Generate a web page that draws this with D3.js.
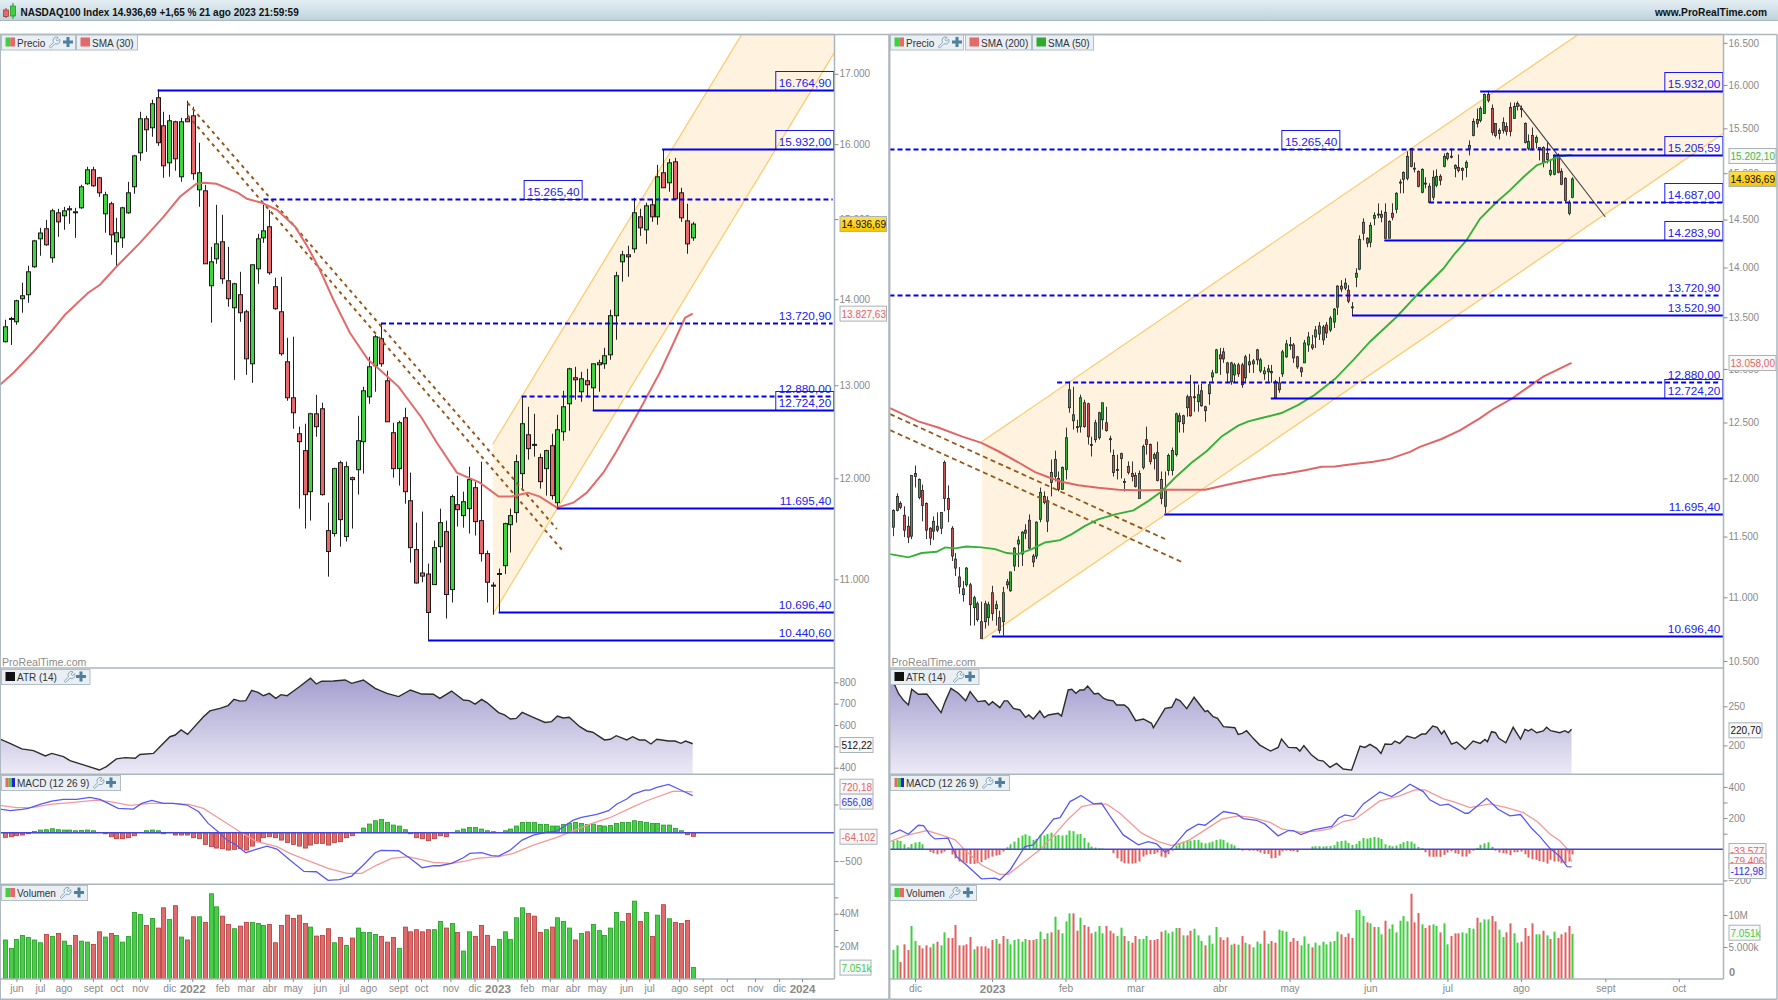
<!DOCTYPE html>
<html lang="es">
<head>
<meta charset="utf-8">
<title>NASDAQ100 Index</title>
<script src="https://cdn.jsdelivr.net/npm/d3@7/dist/d3.min.js"></script>
<style>
html,body{margin:0;padding:0;background:#fff;overflow:hidden}
svg{display:block;font-family:"Liberation Sans",Arial,sans-serif}
.tick text{font-family:"Liberation Sans",Arial,sans-serif}
</style>
</head>
<body>
<svg id="chart" width="1778" height="1000"></svg>
<script>
/* ---------- Weekly chart ---------- */
const weekOpen=[13497,13760,13731,14006,14055,14397,14748,14876,14509,15082,
15043,15120,15095,15147,15464,15651,15544,15069,15200,14710,
14760,15082,15424,15882,16354,16228,16653,16256,15745,16312,
15557,16354,16396,15384,15371,14164,14496,14710,14225,13898,
14055,13850,13243,14372,14760,14902,14152,13850,13266,12861,
12469,12289,11862,12685,12740,11471,11442,12162,11412,12006,
12089,12384,12872,13220,13532,13051,12480,12100,12642,11770,
11285,11060,11050,10950,11314,11461,10903,11730,11620,11690,
11903,11570,11246,10945,11050,11130,11530,11650,12048,12458,
12355,12215,12100,12341,11750,12490,12795,13085,12928,13051,
12972,13232,13243,13346,13803,14459,14546,14621,15030,14863,
15186,15030,15611,15477,15759,15344,14978,14760];
const weekHigh=[13755,13790,13994,14200,14410,14735,14888,14991,15134,15134,
15160,15173,15147,15450,15692,15692,15557,15358,15226,15017,
15160,15490,15854,16453,16396,16624,16772,16453,16410,16326,
16368,16610,16524,16020,15450,14646,15186,15056,14646,14200,
14335,13874,14422,14811,15186,15121,14262,14274,13543,13555,
12545,12577,12696,12894,12806,11750,12110,12183,12173,12017,
12663,12984,13323,13578,13720,13164,12588,12610,12751,12058,
11550,11660,11150,11373,11690,11570,11832,12027,11862,12120,
11965,12173,11275,10972,11102,11550,11690,12246,12872,12762,
12685,12257,12299,12469,12674,12939,13198,13209,13152,13186,
13243,13289,13427,13874,14335,14596,14660,15278,15134,15213,
15265,15718,15932,15800,15813,15411,15200,14965];
const weekLow=[13490,13460,13696,13838,13958,14385,14534,14660,14447,14773,
14863,14940,14760,15134,15450,15424,15291,14825,14546,14397,
14634,15069,15331,15772,15896,16103,15978,15544,15557,15638,
15490,16312,15517,15160,14434,13720,14434,14188,13910,13062,
13731,13118,13028,14188,14697,14298,13874,13335,12828,12523,
11690,11491,11570,12437,11822,11025,11412,11314,11363,11491,
11832,12048,12795,12928,13209,12598,12006,11924,11740,11159,
10960,10972,10440.6,10950,11159,10635,10782,11511,11500,11442,
11422,11169,10782,10670,10696.4,11050,11256,11550,11893,12194,
12225,11893,11822,11781,11700,12394,12501,12839,12817,12872,
12729,12928,13186,13289,13520,14213,14274,14571,14786,14684,
14965,14927,15411,15358,15265,14965,14559,14722];
const weekClose=[13672,13770,13982,14042,14335,14722,14822,14672,15108,14965,
15108,15135,15090,15424,15651,15437,15344,15318,14799,14825,
15147,15344,15840,16354,16200,16567,16020,15705,16326,15800,
16312,16312,15598,15611,14434,14459,14684,14249,14006,14188,
13838,13300,14422,14748,14850,14323,13886,13358,12861,12696,
12384,11832,12685,12545,11832,11266,12100,11580,12120,11986,
12394,12939,13209,13555,13243,12598,12100,12588,11862,11304,
10965,11030,10690,11304,11550,10857,11812,11680,11760,11986,
11560,11246,10972,10935,11055,11540,11620,12173,12577,12310,
12350,11965,12289,11822,12512,12762,13186,13062,13073,13006,
13243,13255,13335,13803,14286,14546,14521,15082,14888,15173,
15030,15557,15411,15745,15265,15017,14684,14936.69];

const weekSmaIdx=[-0.8,1.5,4.9,8,10.25,14.2,16.2,19,23,27,29.8,32.6,34,36,39.7,41.2,43.7,46.3,49.4,51.6,53.6,55.9,58.7,61.8,63.8,67,70.9,73.5,76.9,80.8,84,86.2,89,91,93.9,96.7,99,101.8,104,108,111.4,114,115.7,117];
const weekSmaVal=[13006,13141,13381,13625,13814,14078,14176,14397,14697,15030,15291,15464,15477,15464,15344,15265,15213,15121,14902,14634,14360,13994,13602,13289,13175,12983,12642,12373,12058,11955,11812,11812,11852,11812,11700,11750,11852,12058,12278,12729,13141,13520,13778,13827.63];

const weekAtrIdx=[-0.8,0.9,2.9,4.9,6.9,8,10,11.1,13.4,16.1,17.3,19,20.5,22.2,23,25.3,26.4,28.1,29,30,31.1,33.8,34.9,36.6,38,39,40,41,42,43.1,44,45,46.1,47,48,50,52,53,53.9,55.9,57.9,59,61,63,65,67,69,70.9,72.9,74,76,78,79,80,81.1,82,84,85,86,87,88,89.9,91.9,93,94,95,96,97.8,99,100,102,103,104,105.8,106.8,107.9,108.9,109.9,110.9,112.9,114,115,115.8,117];
const weekAtrVal=[534,514,488,480,455,467,452,433,413,389,405,441,447,444,462,467,498,545,553,577,556,639,666,678,691,720,712,714,762,753,737,748,725,742,737,777,819,792,805,806,811,795,811,772,748,733,764,745,744,725,759,717,714,698,720,705,658,647,628,631,659,636,612,616,642,633,636,592,572,566,530,533,550,530,545,530,530,511,533,525,525,514,525,512.22];

const weekMacdIdx=[-0.8,0.9,2.9,4,6,8,10,12.2,14.5,16.2,17.6,19.3,21.9,23.3,25,27,28.7,31,33,34.6,36.3,37.8,39.2,41,42.9,44.6,46.3,48.5,50.9,53,55,56.9,59,61,63,64,67,69,71,73,74,76,78,79.1,81.1,82.8,84,86,88,89.9,92.2,93.9,95.9,96.7,98.1,100.7,102.7,104.1,105.8,106.8,108.9,109.7,110.9,112.9,114.6,117];
const weekMacdVal=[418,389,412,430,501,560,589,589,624,589,518,430,418,518,571,518,518,489,371,165,18,-130,-206,-353,-289,-236,-289,-483,-683,-689,-842,-830,-766,-571,-353,-312,-318,-454,-618,-583,-583,-542,-442,-365,-353,-406,-412,-306,-130,-41,12,29,165,224,271,324,389,507,595,677,754,754,801,854,772,656.08];
const weekSignalIdx=[-0.8,2,4.9,7.7,11.7,15.6,17.9,21.3,24.7,28.1,31.3,33.8,36.9,40,42.9,46.3,48.5,51.4,55,58.2,60.7,63.3,65.8,68.6,72.9,76,78.3,80.3,84,86.5,89.9,93.9,96.4,99.5,102.9,106.3,109.2,113.7,117];
const weekSignalVal=[483,442,448,501,536,577,548,483,518,518,501,430,224,18,-159,-247,-365,-483,-630,-719,-719,-571,-454,-424,-524,-542,-501,-454,-424,-365,-218,-82,18,153,265,430,565,736,720.18];
const weekHist=[-82,-71,-53,-41,-18,24,47,53,71,53,47,47,35,41,47,35,0,-18,-71,-106,
-106,-88,-53,0,35,47,35,-18,0,-41,-41,-41,-88,-106,-206,-247,-271,-283,-306,-294,
-277,-306,-236,-159,-88,-71,-88,-130,-171,-206,-236,-271,-218,-188,-188,-218,-171,-159,-88,-53,
0,82,153,212,236,183,135,118,53,-18,-88,-106,-141,-106,-53,-71,0,35,65,94,
94,65,35,18,0,35,65,118,183,183,183,147,147,118,118,147,165,183,165,147,
153,130,118,130,165,183,183,212,200,183,165,165,135,135,77,35,-35,-64.102];
const weekVolume=[23.9,18.8,24.3,26.7,25.5,23.9,22.2,27.3,26.1,27.9,
23.2,20.6,26.7,23.2,22.6,21.2,28.9,25.7,27.9,26.7,
22.6,26.1,40.8,39.6,32.8,37.1,31.2,43.6,36.5,44.9,
25.7,23.9,38.1,38.1,34.7,52.2,44.2,38.5,33.4,30.8,
32.4,34.7,34.7,34,32.8,33.4,22.2,32.8,39.1,37.1,
39.1,34,31.8,26.3,26.7,30.8,22.2,25.5,20.6,25.1,
31.2,28.5,28.5,27.3,26.1,22.6,25.5,18.8,31.8,28.9,
30.2,28.9,30.2,30.2,35.3,31.2,34,28.5,17.1,28.9,
26.1,32.8,26.7,20,24.3,28.9,24.3,37.5,43.6,40.2,
38.5,28.5,30.2,31.8,37.5,35.3,31.2,23.9,27.9,28.9,
33.4,29.6,26.7,31.2,40.8,35.3,40.2,47.7,35.3,40.8,
26.1,39.1,45.5,36.9,34.7,34,35.9,7.051];

const weekLevelValues=[16764.9,15932,15265.4,13720.9,12880,12724.2,11695.4,10696.4,10440.6];
const weekLevelStarts=[26,111.8,44,64,87.9,100,93.9,84,72];
const weekLevelEnds=[141.12,141.12,140.8,140.8,140.8,141.12,141.12,141.12,141.12];
const weekLevelDashed=[0,0,1,1,1,0,0,0,0];
const weekLevelBoxed=[1,1,1,0,0,1,0,0,0];
const weekLevelLabelEnd=[141,141,98.2,141,141,141,141,141,141];
const weekChannelIdx=[83,141.2];
const weekChannelUpper=[12357,20072];
const weekChannelLower=[10671,17329];
const weekTrendA={idx:[31.1,93.9],val:[16580,11487]};
const weekTrendB={idx:[31.1,94.9],val:[16405,11274]};

const weekDateIdx=[2,6,10,15,19,23,28,31.9,37,41,45,49,53.6,57.7,61.8,66.9,70.8,75.8,79.9,83.8,88.8,92.7,96.6,100.7,105.7,109.6,114.7,118.7,122.8,127.6,131.7,135.6];
const weekDateLabels=["jun","jul","ago","sept","oct","nov","dic","2022","feb","mar","abr","may","jun","jul","ago","sept","oct","nov","dic","2023","feb","mar","abr","may","jun","jul","ago","sept","oct","nov","dic","2024"];

/* ---------- Daily chart ---------- */
const dayOpen=[11579,11722,11782,11680,11587,11503,12016,11834,11894,11782,
11570,11545,11587,11570,12140,11825,11570,11312,11165,11021,
11101,11101,10917,10949,10806,10806,10838,11037,10909,10838,
10806,11125,11053,11255,11437,11354,11528,11638,11337,11337,
11646,11843,11629,11964,12016,11999,11903,12078,12636,12516,
12462,12462,12682,12673,12300,12344,12362,12525,12498,12353,
12202,12078,12219,11973,12105,12043,12025,11825,12096,12344,
12300,12175,12228,11990,11757,12069,12069,12210,12562,12489,
12636,12738,12738,12692,12794,12645,12766,12924,12962,13134,
13163,13057,12878,12943,13038,13038,12915,13038,13048,13182,
12981,12953,12972,12962,12878,12868,12953,13115,13230,13230,
13115,13010,13057,13230,13230,13307,13336,13278,13424,13375,
13453,13600,13811,13791,13770,13600,13901,13983,14471,14303,
14261,14513,14555,14524,14577,14303,14566,14609,14900,14933,
14944,15274,15055,15020,14792,14890,14857,14738,14868,14966,
15075,15218,15185,15053,15064,15053,15064,15274,15420,15601,
15590,15670,15888,15727,15556,15476,15476,15522,15738,15613,
15785,15727,15556,15274,15420,15342,15285,15285,15218,14988,
14988,15197,15020,14944,14566,14738];
const dayHigh=[11731,11868,11800,11757,11671,12025,12113,11999,11946,11791,
11579,11671,11705,11705,12157,11938,11587,11362,11246,11133,
11246,11117,11013,10965,10965,10973,10965,11093,10973,10893,
11085,11149,11206,11412,11503,11545,11604,11688,11354,11629,
11920,11886,11843,12166,12246,12060,12105,12453,12878,12831,
12525,12757,12710,12682,12371,12525,12599,12682,12645,12380,
12255,12210,12228,11999,12149,12149,12052,12069,12300,12462,
12309,12228,12326,12060,12060,12219,12273,12590,12590,12571,
12757,12943,12878,12850,12859,12654,12878,12991,13192,13201,
13201,13067,13067,13057,13057,13057,13134,13144,13095,13192,
13105,13019,13038,13038,12896,12924,13182,13278,13307,13249,
13124,13019,13278,13355,13326,13414,13453,13424,13453,13512,
13591,13821,13871,13891,13821,13650,13993,14334,14513,14313,
14471,14577,14673,14598,14673,14492,14673,14792,14933,15020,
15241,15274,15119,15031,15053,14955,14890,15031,15042,14988,
15218,15230,15274,15097,15207,15064,15141,15364,15613,15727,
15750,15900,15932,15773,15556,15499,15624,15567,15796,15796,
15808,15761,15567,15431,15510,15420,15285,15297,15342,15141,
15207,15218,15053,14955,14705,14955];
const dayLow=[11503,11714,11731,11495,11445,11478,11920,11817,11629,11478,
11428,11470,11537,11520,11714,11621,11296,11173,11029,10965,
11085,10775,10775,10806,10674,10752,10775,10814,10775,10713,
10696.4,11069,11045,11214,11246,11255,11478,11395,11246,11312,
11621,11774,11537,11843,11973,11886,11903,11990,12590,12435,
12408,12408,12453,12300,12193,12318,12344,12435,12417,12228,
12016,11990,11999,11886,12034,11973,11920,11825,12078,12210,
12122,12078,11973,11774,11700,12025,12025,12193,12408,12408,
12553,12553,12599,12599,12645,12507,12663,12878,12962,12943,
13057,12868,12850,12868,12924,12822,12878,12962,12962,13038,
12962,12896,12878,12868,12724.2,12775,12924,13105,13182,13057,
13000,12924,13057,13163,13182,13201,13278,13230,13297,13355,
13394,13522,13750,13770,13640,13520.9,13800,13973,14282,14209,
14209,14439,14513,14471,14292,14303,14492,14566,14781,14781,
14922,15064,15009,14846,14781,14835,14684,14705,14846,14868,
15064,15141,15163,14955,15009,14922,14955,15197,15409,15510,
15567,15670,15796,15420,15398,15375,15442,15420,15409,15613,
15704,15624,15330,15252,15252,15274,15141,15064,15108,14966,
14977,14998,14868,14684,14545,14727];
const dayClose=[11722,11843,11748,11554,11495,12025,12043,11990,11765,11554,
11487,11629,11554,11705,11825,11731,11337,11238,11085,11069,
11238,10941,10997,10822,10674,10949,10941,10870,10941,10736,
11037,11101,11206,11403,11470,11537,11554,11403,11288,11621,
11877,11791,11808,12052,12166,11903,12096,12362,12803,12571,
12462,12729,12462,12371,12295,12498,12590,12682,12426,12350,
12052,12075,12175,11970,12052,12016,11929,12043,12282,12300,
12149,12210,11981,11825,11903,12202,12246,12580,12507,12562,
12738,12562,12735,12757,12654,12608,12850,12962,13182,13095,
13095,12962,13057,13038,12953,12850,13115,13067,13076,13086,
13086,12981,13000,12975,12729,12803,13163,13240,13232,13105,
13019,12972,13249,13307,13201,13375,13414,13404,13346,13492,
13581,13811,13781,13841,13660,13603,13942,14292,14355,14251,
14439,14545,14558,14555,14303,14481,14524,14781,14903,15009,
15185,15075,15050,14857,15042,14892,14684,14955,14966,14922,
15185,15163,15187,15086,15031,15031,15119,15308,15579,15556,
15727,15888,15819,15453,15420,15442,15567,15465,15465,15750,
15750,15725,15342,15353,15274,15398,15263,15119,15152,15031,
15197,15009,14879,14705,14684,14936.69];

const daySma200Idx=[-0.8,6.9,12.3,18.7,24.1,28.7,34.1,38.7,42.7,45.9,50.5,55.9,61.4,66.8,70.4,75,79.5,85,91.3,97.7,103.1,106.8,112.2,116.7,120.4,124.4,130.8,135.3,140.8,143.5,149.4,154.4,159.9,163.5,168.5,171.7,177.1,184.8];
const daySma200Val=[12633,12510,12455,12374,12315,12240,12142,12054,12005,11970,11940,11918,11900,11895,11895,11900,11900,11900,11946,11990,12025,12040,12072,12102,12105,12122,12146,12172,12235,12279,12350,12429,12541,12624,12719,12797,12927,13058];
const daySma50Idx=[-0.8,1.9,4.2,7.8,11.9,14.2,16.9,20,24.1,27.8,31,34.1,37.8,41.4,45.5,48.7,52.3,55.9,60.5,65.5,69.5,73.2,76.8,81.3,85.4,89.5,94,96.8,100.4,105.8,110.4,114.9,120.4,125.4,129.9,137.2,143.1,149.9,153,156.2,159.9,164.4,168,171.7,175.3,178.9,181.6,184.8];
const daySma50Val=[11353,11339,11326,11362,11373,11409,11401,11417,11409,11395,11362,11353,11395,11450,11470,11520,11590,11646,11688,11722,11802,11888,12005,12137,12240,12374,12471,12510,12541,12587,12663,12756,12906,13086,13261,13505,13737,13990,14144,14282,14510,14687,14813,14958,15086,15141,15185,15202.1];

const dayAtrIdx=[-0.95,0.09,1.45,2.8,4.2,5.1,6.9,9.2,13.1,14.2,15.8,17.8,19.8,21,23.1,25.1,26.1,27.1,29.1,30.3,31.2,32.8,34.6,36.1,37,38.2,40,41.2,42.3,45,45.9,47.7,48.7,49.8,50.9,52,53,54.8,55.9,57.3,58.5,60,60.9,63,64.1,66.1,68.2,70.4,70.9,72.3,74.1,75.9,77.1,78.2,80,82,83.6,85,85.7,87.2,88.4,90,93.1,94,95.1,96.3,98.1,99.9,102.8,104.9,105.8,107.7,109.9,110.8,111.9,114,115.8,117.2,119,120.8,122.6,124.9,127.2,128.5,129.9,131.7,132.9,134,135.8,136.7,138,140,142.1,144,145.1,147,148.2,149.4,150.1,152.1,153.5,155.8,158,159.9,161.2,161.9,163,164.1,165,166.9,168.9,170.9,172.1,173,173.9,175.3,177.1,178,179.1,181.6,183,183.9,184.8];
const dayAtrVal=[288,281.6,266.7,258,251.7,271.8,265.4,265.8,241.9,256,273,266.7,257,268.8,256,257,251.7,256,248.3,257,257,247.4,245.3,235.9,238.9,233.8,244,235.5,238.9,241,237.6,270.9,271.8,266.7,270.9,270.9,276,265.8,266.7,260.3,258,257,251.7,251.7,247.4,231.6,233.8,228.2,222.6,233.3,247.4,248.7,259.4,257,247,261.5,251.7,243.2,244.4,236.8,234.6,223.9,222.6,214.1,215.4,218.8,209,200.4,192.7,197.4,208.1,197.4,197,192.7,199.6,187.6,181.2,179.9,171.8,176.9,169.7,168.4,199.1,197.4,201.3,196.2,189.7,201.7,201.3,205.6,202.6,212,209,214.5,214.5,224.8,223.1,214.5,218.8,201.7,204.3,194.9,205.6,202.6,207.7,204.7,217.5,216.2,209,203.4,223.1,208.1,220.5,218.4,220.9,216.2,218.4,223.1,218.8,216.2,218.8,216.2,220.7];

const dayMacdIdx=[-0.8,1.9,4.2,6.9,8.3,10.1,11.4,15,17.3,20,24.1,27.8,29.1,31.9,35.9,38.2,41.4,43.7,45.5,48.2,49.6,51.2,54.6,56.8,59.5,62.7,66.8,69.5,71.8,74.1,75.9,80,83.1,85,90,93.6,95.4,99,101.3,104.9,107.7,109,111.1,114.5,119.5,121.3,123.1,125.4,128.1,132.6,135.8,138.5,140.8,144.4,146.2,149,151.2,155.8,156.7,161.7,164.8,168,170.9,173.9,176.2,178.9,181.6,183.6,184.8];
const dayMacdVal=[96,124,96,154,152,92,66,71,-47,-101,-190,-186,-197,-133,17,28,124,193,203,306,323,345,291,295,199,92,28,49,34,-19,6,118,161,154,242,227,197,186,161,86,120,120,94,124,146,199,220,210,291,368,338,377,417,370,317,282,289,231,231,327,257,214,223,135,81,6,-47,-111,-112.98];
const daySignalIdx=[-0.8,3.3,6.9,9.2,13.7,16.9,20,24.1,29.1,31.4,35.9,40,44.1,47.7,51.4,54.6,58.2,61.8,67.7,72.3,75.9,80,85,89.5,94,97.7,102.7,105.8,110.8,115.8,119,122.6,125.8,132.6,138,142.1,144.9,149.9,153,157.1,162.6,167.1,171.7,175.7,178.9,181.6,183.6,184.8];
const daySignalVal=[49,88,107,120,88,60,-15,-101,-161,-161,-79,-4,96,193,274,289,289,231,103,49,24,49,124,193,214,205,173,131,109,118,131,178,193,310,342,381,381,323,302,267,291,267,235,173,98,54,2,-79.406];
const dayHist=[53,58,53,32,13,34,43,47,32,0,-17,-26,-32,-26,-15,-4,-34,-58,-79,-83,
-90,-94,-94,-90,-83,-68,-58,-47,-41,-36,-15,13,32,49,73,88,96,86,60,66,
94,88,98,107,88,92,88,92,120,116,96,98,73,43,17,11,6,4,0,-4,
-26,-58,-79,-90,-92,-92,-90,-79,-47,-36,-32,-30,-21,-47,-53,-32,-9,24,38,49,
60,56,60,60,43,38,43,49,60,64,60,43,32,24,6,-9,-6,-9,-9,-13,
-21,-30,-30,-58,-56,-41,-13,-9,-11,-13,-19,0,0,0,17,19,19,17,19,21,
26,49,53,56,41,28,34,53,73,68,73,79,75,66,32,24,19,24,34,45,
53,49,36,15,6,-19,-47,-49,-47,-49,-36,-21,-13,-26,-30,-47,-47,-28,-9,9,
28,38,45,15,-9,-21,-26,-28,-38,-19,-19,-15,-32,-53,-64,-68,-77,-81,-92,-68,
-79,-79,-90,-90,-79,-33.577];
const dayVolume=[4.53,5.26,2.66,5.42,4.53,8.28,5.94,5.26,4.79,5.26,
4.95,5.52,5.83,5.26,7.29,6.41,6.41,8.44,5.26,5.26,
5.42,6.56,4.64,5.10,5.10,5.10,4.79,6.09,6.25,5.52,
6.72,6.25,5.42,6.09,6.25,5.83,6.25,6.09,6.09,6.25,
7.40,6.25,7.14,7.29,9.74,7.71,7.14,9.01,10.26,10.26,
7.55,9.58,8.44,8.18,7.14,7.40,8.28,7.14,8.28,7.55,
7.14,6.72,8.02,6.72,5.94,5.68,6.72,6.25,6.25,6.72,
6.09,6.09,6.25,7.40,7.60,7.14,7.40,7.97,7.97,6.82,
6.82,7.55,7.86,6.82,5.94,5.26,6.82,5.52,8.13,6.51,
6.09,6.51,5.36,5.52,5.36,6.72,5.68,5.42,4.95,5.83,
5.52,7.55,5.52,5.94,5.68,7.71,7.55,7.40,5.83,6.41,
5.94,5.26,6.66,5.52,4.95,5.68,5.26,5.83,5.42,5.83,
5.94,7.40,6.98,6.56,7.14,6.41,10.78,10.78,9.84,8.85,8.70,
8.13,8.13,6.98,9.11,7.86,8.54,7.29,9.11,9.84,9.01,
13.33,8.85,10.31,8.54,7.97,8.39,8.54,8.28,7.29,8.70,
5.42,6.72,7.14,7.14,7.29,7.14,7.97,7.86,9.58,8.85,
9.32,9.32,9.84,9.01,7.71,6.56,7.29,8.70,7.14,5.68,
5.83,7.97,6.72,8.70,6.98,6.98,7.55,6.82,6.25,7.40,
6.41,6.98,7.29,8.28,7.051];
/* 1 = green volume bar, 0 = red volume bar */
const dayVolumeUp="1100011000"+"0101100000"+"0010000010"+"0111111001"+"1010101110"+"0100011100"+"0110100111"+"0000111101"+"0011101110"+"0010101011"+"1010011100"+"0111011111"+"1"+"1000011101"+"0110111111"+"0001001101"+"1000111101"+"1100110011"+"0000110101"+"00001";

const dayLevelValues=[15932,15265.4,15205.59,14687,14283.9,13720.9,13520.9,12880,12724.2,11695.4,10696.4];
const dayLevelStarts=[159.9,-0.95,179.8,146,133.8,-0.95,125,44.7,102.9,73.9,26.9];
const dayLevelEnds=[226.18,210.2,226.18,226.18,226.18,225.5,226.18,225.5,226.18,226.18,226.18];
const dayLevelDashed=[0,1,0,1,0,1,0,1,0,0,0];
const dayLevelBoxed=[1,1,1,1,1,0,0,0,1,0,0];
const dayLevelLabelEnd=[226,121.7,226,226,226,226,226,226,226,226,226];
const dayChannelIdx=[24.15,226.2];
const dayChannelUpper=[12325,17852];
const dayChannelLower=[10662,15445];
const dayTrendA={idx:[-0.8,74.1],val:[12577,11479]};
const dayTrendB={idx:[-0.8,78.5],val:[12430,11290]};
const dayTrendC={idx:[170.3,194],val:[15780,14527]};

const dayDateIdx=[6,27,47,66,89,108,130,151,171,194,214];
const dayDateLabels=["dic","2023","feb","mar","abr","may","jun","jul","ago","sept","oct"];

/* ---------- Shared drawing setup ---------- */
const svg=d3.select("#chart");
const defs=svg.append("defs");
const es=d3.formatLocale({decimal:",",thousands:".",grouping:[3],currency:["",""]});
const fmtPrice=es.format(",.2f"), fmtTick=es.format(",.0f");

const INK="#111", BLUE="#0000ee", AXIS="#aab6bd", TICK="#8a8a8a";
const UP="#3fcf3f", DOWN="#e26a6a", ORANGE="#ffc766", BAND="#fff3e0";

const bandY={main:[34.5,668],atr:[668,774.3],macd:[774.3,884.3],vol:[884.3,979]};

const grad=defs.append("linearGradient").attr("id","atrFill").attr("gradientUnits","userSpaceOnUse")
  .attr("x1",0).attr("x2",0).attr("y1",680).attr("y2",774);
grad.append("stop").attr("offset",0).attr("stop-color","#a5a1d0");
grad.append("stop").attr("offset",1).attr("stop-color","#eceaf6");
const bar=defs.append("linearGradient").attr("id","topBar").attr("x1",0).attr("x2",0).attr("y1",0).attr("y2",1);
bar.append("stop").attr("offset",0).attr("stop-color","#e4eff3");
bar.append("stop").attr("offset",1).attr("stop-color","#bfd3dc");
const gold=defs.append("linearGradient").attr("id","goldBox").attr("x1",0).attr("x2",0).attr("y1",0).attr("y2",1);
gold.append("stop").attr("offset",0).attr("stop-color","#ffe14d");
gold.append("stop").attr("offset",1).attr("stop-color","#f7c400");

/* Top title strip */
svg.append("rect").attr("width",1778).attr("height",20).attr("fill","url(#topBar)");
svg.append("line").attr("x1",0).attr("x2",1778).attr("y1",20.5).attr("y2",20.5).attr("stroke","#a9b8c0");
const logo=svg.append("g");
logo.append("line").attr("x1",6).attr("x2",6).attr("y1",8).attr("y2",18).attr("stroke","#a33");
logo.append("rect").attr("x",3.5).attr("y",10).attr("width",5).attr("height",6.5).attr("fill",DOWN).attr("stroke","#933").attr("stroke-width",.7);
logo.append("line").attr("x1",13).attr("x2",13).attr("y1",3).attr("y2",19).attr("stroke","#282");
logo.append("rect").attr("x",10.5).attr("y",6).attr("width",5).attr("height",10).attr("fill",UP).attr("stroke","#282").attr("stroke-width",.7);
svg.append("text").attr("x",20.5).attr("y",16).attr("font-size",10).attr("font-weight",700).attr("fill","#111")
  .text("NASDAQ100 Index 14.936,69 +1,65 % 21 ago 2023 21:59:59");
svg.append("text").attr("x",1767).attr("y",16).attr("text-anchor","end").attr("font-size",10.2).attr("font-weight",700).attr("fill","#111")
  .text("www.ProRealTime.com");

function wrench(g,x,y){
  g.append("path").attr("transform",`translate(${x},${y})`)
   .attr("d","M1.2 10.2 L5.6 5.8 A3.4 3.4 0 0 1 10.2 1 L8 3.2 L9.4 4.8 L11.6 2.6 A3.4 3.4 0 0 1 7 7.2 L2.6 11.6 Z")
   .attr("fill","#eef3f6").attr("stroke","#7d9db4").attr("stroke-width",.9);
}
function plus(g,x,y){
  g.append("path").attr("transform",`translate(${x},${y})`)
   .attr("d","M3.5 0 H6.5 V3.5 H10 V6.5 H6.5 V10 H3.5 V6.5 H0 V3.5 H3.5 Z").attr("fill","#4f7f9e");
}
function tab(x0,y,w,swatches,label,icons){
  const g=svg.append("g");
  g.append("rect").attr("x",x0+.5).attr("y",y+.5).attr("width",w).attr("height",15)
    .attr("fill","#e9eff3").attr("stroke","#b2bec5");
  const sw=9.5/swatches.length;
  swatches.forEach((c,i)=>g.append("rect").attr("x",x0+4.5+i*sw).attr("y",y+3).attr("width",sw).attr("height",9).attr("fill",c));
  g.append("text").attr("x",x0+16).attr("y",y+12).attr("font-size",10).attr("fill","#333").text(label);
  if(icons){wrench(g,x0+icons[0],y+2);plus(g,x0+icons[1],y+2.5);}
}

function valueBox(x,cy,w,text,color,fill){
  const g=svg.append("g");
  g.append("rect").attr("x",x+.5).attr("y",cy-7.5).attr("width",w).attr("height",15)
    .attr("fill",fill||"#f8f8f8").attr("stroke","#a9b3b8");
  g.append("text").attr("x",x+2).attr("y",cy+4).attr("font-size",10).attr("fill",color).text(text);
}

/* Draws one full chart column: price, ATR, MACD and volume */
function drawColumn(c){
  const root=svg.append("g");
  const x=d3.scaleLinear().domain(c.xDomain).range([c.left,c.right]);
  const yMain=d3.scaleLog().domain(c.priceDomain).range([bandY.main[1],bandY.main[0]]);
  const yAtr=d3.scaleLinear().domain(c.atrDomain).range([bandY.atr[1],bandY.atr[0]]);
  const yMacd=d3.scaleLinear().domain(c.macdDomain).range([bandY.macd[1],bandY.macd[0]]);
  const yVol=d3.scaleLinear().domain(c.volDomain).range([bandY.vol[1],bandY.vol[0]]);

  Object.entries(bandY).forEach(([k,b])=>{
    defs.append("clipPath").attr("id",`${c.id}-${k}`).append("rect")
      .attr("x",c.left).attr("y",b[0]).attr("width",c.right-c.left).attr("height",b[1]-b[0]);
  });
  const layer=k=>root.append("g").attr("clip-path",`url(#${c.id}-${k})`);
  const px=i=>Math.round(x(i));

  /* price band */
  const main=layer("main");
  const chan=[[c.chanIdx[0],c.chanUp[0]],[c.chanIdx[1],c.chanUp[1]],[c.chanIdx[1],c.chanLow[1]],[c.chanIdx[0],c.chanLow[0]]];
  main.append("path").attr("d",d3.line().x(d=>x(d[0])).y(d=>yMain(d[1]))(chan)+"Z").attr("fill",BAND);
  [c.chanUp,c.chanLow].forEach(v=>main.append("line").attr("x1",x(c.chanIdx[0])).attr("x2",x(c.chanIdx[1]))
      .attr("y1",yMain(v[0])).attr("y2",yMain(v[1])).attr("stroke",ORANGE).attr("stroke-width",1.2));

  c.open.forEach((o,i)=>{
    const cl=c.close[i], up=cl>=o, cx=px(i), top=yMain(Math.max(o,cl)), bot=yMain(Math.min(o,cl));
    main.append("line").attr("x1",cx+.5).attr("x2",cx+.5).attr("y1",yMain(c.high[i])).attr("y2",yMain(c.low[i]))
      .attr("stroke",c.wick).attr("stroke-width",1);
    const h=Math.max(bot-top,1);
    main.append("rect").attr("x",cx-c.bodyW/2+.5).attr("y",top).attr("width",c.bodyW).attr("height",h)
      .attr("fill",up?c.upFill:c.downFill).attr("stroke",c.bodyStroke).attr("stroke-width",c.bodySW);
  });

  const curve=(idx,val,ys)=>d3.line().x((d,i)=>x(idx[i])).y(d=>ys(d))(val);
  c.trends.forEach(t=>main.append("line").attr("x1",x(t.idx[0])).attr("x2",x(t.idx[1]))
      .attr("y1",yMain(t.val[0])).attr("y2",yMain(t.val[1])).attr("stroke",t.color).attr("stroke-width",t.w).attr("stroke-dasharray",t.dash||null));
  c.smas.forEach(s=>main.append("path").attr("d",curve(s.idx,s.val,yMain)).attr("fill","none").attr("stroke",s.color).attr("stroke-width",s.w));

  /* horizontal levels */
  const labels=root.append("g");
  c.levels.values.forEach((v,k)=>{
    const yy=Math.round(yMain(v))+.5, dashed=c.levels.dashed[k];
    main.append("line").attr("x1",x(c.levels.starts[k])).attr("x2",x(c.levels.ends[k])).attr("y1",yy).attr("y2",yy)
      .attr("stroke",BLUE).attr("stroke-width",2).attr("stroke-dasharray",dashed?"5 3":null);
    const rx=x(c.levels.labelEnd[k]);
    if(c.levels.boxed[k]) labels.append("rect").attr("x",rx-58).attr("y",yy-19).attr("width",58).attr("height",19)
      .attr("fill","none").attr("stroke",BLUE).attr("stroke-width",.9);
    labels.append("text").attr("x",rx-2.5).attr("y",yy-3.5).attr("text-anchor","end").attr("font-size",11.8)
      .attr("fill","#2222ee").text(fmtPrice(v));
  });
  root.append("text").attr("x",c.left+2).attr("y",666).attr("font-size",10.6).attr("fill","#8b8b8b").text("ProRealTime.com");

  /* ATR band */
  const atr=layer("atr");
  atr.append("path").attr("d",d3.area().x((d,i)=>x(c.atrIdx[i])).y1(d=>yAtr(d)).y0(bandY.atr[1])(c.atrVal)).attr("fill","url(#atrFill)");
  atr.append("path").attr("d",curve(c.atrIdx,c.atrVal,yAtr)).attr("fill","none").attr("stroke","#2c2c2c").attr("stroke-width",1.4);

  /* MACD band */
  const macd=layer("macd");
  c.hist.forEach((v,i)=>{
    const cx=px(i), yv=yMacd(v), y0=yMacd(0);
    macd.append("rect").attr("x",cx-c.barW/2+.5).attr("y",Math.min(yv,y0)).attr("width",c.barW).attr("height",Math.abs(yv-y0))
      .attr("fill",v>=0?c.barUp:c.barDown).attr("stroke",c.barStroke?(v>=0?"#249a24":"#b53a3a"):"none").attr("stroke-width",.8);
  });
  macd.append("path").attr("d",curve(c.signalIdx,c.signalVal,yMacd)).attr("fill","none").attr("stroke","#f19a9a").attr("stroke-width",1.3);
  macd.append("path").attr("d",curve(c.macdIdx,c.macdVal,yMacd)).attr("fill","none").attr("stroke","#5a5aee").attr("stroke-width",1.3);
  root.append("line").attr("x1",c.left).attr("x2",c.right).attr("y1",yMacd(0)).attr("y2",yMacd(0)).attr("stroke","#4646d8").attr("stroke-width",1.4);

  /* Volume band */
  const vol=layer("vol");
  c.volume.forEach((v,i)=>{
    const cx=px(i), yv=yVol(v), up=c.volUp(i);
    vol.append("rect").attr("x",cx-c.barW/2+.5).attr("y",yv).attr("width",c.barW).attr("height",yVol(0)-yv)
      .attr("fill",up?c.barUp:c.barDown).attr("stroke",c.barStroke?(up?"#249a24":"#b53a3a"):"none").attr("stroke-width",.8);
  });

  /* Frame */
  const frame=root.append("g").attr("stroke",AXIS).attr("stroke-width",1.5).attr("fill","none");
  [34.5,668,774.3,884.3].forEach(yy=>frame.append("line").attr("x1",c.left).attr("x2",c.right).attr("y1",yy).attr("y2",yy));
  frame.append("line").attr("x1",c.left).attr("x2",c.edge).attr("y1",34.5).attr("y2",34.5);
  frame.append("line").attr("x1",c.left).attr("x2",c.edge).attr("y1",999.3).attr("y2",999.3);
  frame.append("line").attr("x1",c.left).attr("x2",c.right).attr("y1",979).attr("y2",979);
  frame.append("line").attr("x1",c.right).attr("x2",c.right).attr("y1",34.5).attr("y2",979);
  frame.append("line").attr("x1",c.left+.2).attr("x2",c.left+.2).attr("y1",34.5).attr("y2",999.3);
  frame.append("line").attr("x1",c.edge).attr("x2",c.edge).attr("y1",34.5).attr("y2",999.3);

  /* Right-hand axes; ticks listed as minor carry a mark but no number */
  const addAxis=(scale,ticks,fmt,minor=[])=>{
    const g=root.append("g").attr("transform",`translate(${c.right},0)`)
      .call(d3.axisRight(scale).tickValues(ticks.concat(minor)).tickFormat(d=>minor.includes(d)?"":fmt(d)).tickSize(4).tickPadding(1));
    g.select(".domain").remove();
    g.selectAll(".tick line").attr("stroke",TICK);
    g.selectAll(".tick text").attr("fill","#8a8a8a").attr("font-size",10);
    return g;
  };
  addAxis(yMain,c.priceTicks,fmtTick);
  addAxis(yAtr,c.atrTicks,d3.format("d"),c.atrMinor);
  addAxis(yMacd,c.macdTicks,d3.format("d"),c.macdMinor);
  addAxis(yVol,c.volTicks,c.volFmt,c.volMinor);

  /* Date axis */
  const gx=root.append("g").attr("transform","translate(0,979)")
    .call(d3.axisBottom(x).tickValues(c.dateIdx).tickFormat((d,i)=>c.dateLabels[i]).tickSize(3).tickPadding(3));
  gx.select(".domain").remove();
  gx.selectAll(".tick line").attr("stroke",TICK);
  gx.selectAll(".tick text").attr("fill","#8a8a8a")
    .attr("font-size",(d,i)=>/^\d/.test(c.dateLabels[i])?11.6:10.2)
    .attr("font-weight",(d,i)=>/^\d/.test(c.dateLabels[i])?700:400);

  /* Value flags next to the axis */
  c.flags.forEach(f=>{
    const sc={main:yMain,atr:yAtr,macd:yMacd,vol:yVol}[f.band];
    const cy=f.cy!==undefined?f.cy:sc(f.value);
    valueBox(c.right+5,cy,f.w,f.text,f.color,f.fill);
  });
}

drawColumn({
  id:"week",left:0,right:834.5,edge:889,xDomain:[-0.8,141.12],priceDomain:[10191,17585],
  open:weekOpen,high:weekHigh,low:weekLow,close:weekClose,wick:"#222",bodyW:4,bodySW:1,bodyStroke:"#1a1a1a",upFill:"#3ed63e",downFill:"#e8696b",
  chanIdx:weekChannelIdx,chanUp:weekChannelUpper,chanLow:weekChannelLower,
  trends:[Object.assign({color:"#96591c",w:2,dash:"3.5 4"},weekTrendA),Object.assign({color:"#96591c",w:2,dash:"3.5 4"},weekTrendB)],
  smas:[{idx:weekSmaIdx,val:weekSmaVal,color:"#e26b6b",w:2}],
  levels:{values:weekLevelValues,starts:weekLevelStarts,ends:weekLevelEnds,dashed:weekLevelDashed,boxed:weekLevelBoxed,labelEnd:weekLevelLabelEnd},
  atrDomain:[369,867],atrIdx:weekAtrIdx,atrVal:weekAtrVal,atrTicks:[400,600,700,800],atrMinor:[500],
  macdDomain:[-911,1032],macdIdx:weekMacdIdx,macdVal:weekMacdVal,signalIdx:weekSignalIdx,signalVal:weekSignalVal,hist:weekHist,macdTicks:[-500],macdMinor:[500],
  barW:4,barUp:"#46cf46",barDown:"#e16a6a",barStroke:true,
  volDomain:[0,58],volume:weekVolume,volUp:i=>weekClose[i]>=weekOpen[i],volTicks:[20,40],volMinor:[30,50],volFmt:d=>d+"M",
  priceTicks:[11000,12000,13000,14000,15000,16000,17000],
  dateIdx:weekDateIdx,dateLabels:weekDateLabels,
  flags:[
    {band:"main",value:14936.69,w:46.5,text:fmtPrice(14936.69),color:"#111",fill:"url(#goldBox)"},
    {band:"main",value:13827.63,w:46.5,text:fmtPrice(13827.63),color:"#e06666"},
    {band:"atr",value:512.22,cy:745,w:33,text:"512,22",color:"#111"},
    {band:"macd",value:720.18,cy:786.7,w:33,text:"720,18",color:"#e06666"},
    {band:"macd",value:656.08,cy:801.6,w:33,text:"656,08",color:"#3333dd"},
    {band:"macd",value:-64.102,cy:836.7,w:37,text:"-64,102",color:"#e06666"},
    {band:"vol",value:7.051,cy:967.6,w:31,text:"7.051k",color:"#44cc44"}
  ]
});

drawColumn({
  id:"day",left:889.5,right:1723.5,edge:1777,xDomain:[-0.953,226.18],priceDomain:[10446,16601],
  open:dayOpen,high:dayHigh,low:dayLow,close:dayClose,wick:"#333",bodyW:2,bodySW:.8,bodyStroke:"#222",upFill:"#2fae3a",downFill:"#c75555",
  chanIdx:dayChannelIdx,chanUp:dayChannelUpper,chanLow:dayChannelLower,
  trends:[Object.assign({color:"#96591c",w:1.8,dash:"5 3.5"},dayTrendA),Object.assign({color:"#96591c",w:1.8,dash:"5 3.5"},dayTrendB),Object.assign({color:"#444",w:1.1},dayTrendC)],
  smas:[{idx:daySma200Idx,val:daySma200Val,color:"#e06666",w:2},{idx:daySma50Idx,val:daySma50Val,color:"#35b03a",w:1.9}],
  levels:{values:dayLevelValues,starts:dayLevelStarts,ends:dayLevelEnds,dashed:dayLevelDashed,boxed:dayLevelBoxed,labelEnd:dayLevelLabelEnd},
  atrDomain:[163,299],atrIdx:dayAtrIdx,atrVal:dayAtrVal,atrTicks:[200,250],atrMinor:[],
  macdDomain:[-225,481],macdIdx:dayMacdIdx,macdVal:dayMacdVal,signalIdx:daySignalIdx,signalVal:daySignalVal,hist:dayHist,macdTicks:[-200,200,400],macdMinor:[100,300],
  barW:2,barUp:"#3fcf3f",barDown:"#e26060",barStroke:false,
  volDomain:[0,14.8],volume:dayVolume,volUp:i=>dayVolumeUp[i]==="1",volTicks:[5,10],volMinor:[],volFmt:d=>d===5?"5.000k":d+"M",
  priceTicks:[10500,11000,11500,12000,12500,13000,13500,14000,14500,15000,15500,16000,16500],
  dateIdx:dayDateIdx,dateLabels:dayDateLabels,
  flags:[
    {band:"main",value:14936.69,w:47,text:fmtPrice(14936.69),color:"#111",fill:"url(#goldBox)"},
    {band:"main",value:15202.1,cy:156,w:47,text:fmtPrice(15202.1),color:"#44bb44"},
    {band:"main",value:13058,cy:363,w:47,text:fmtPrice(13058),color:"#e06666"},
    {band:"atr",value:220.7,cy:730.3,w:33,text:"220,70",color:"#111"},
    {band:"macd",value:-33.577,cy:851,w:37,text:"-33,577",color:"#e06666"},
    {band:"macd",value:-79.406,cy:861,w:37,text:"-79,406",color:"#e06666"},
    {band:"macd",value:-112.98,cy:871,w:37,text:"-112,98",color:"#3333dd"},
    {band:"vol",value:7.051,cy:932.7,w:31,text:"7.051k",color:"#44cc44"}
  ]
});
svg.append("text").attr("x",1729).attr("y",976).attr("font-size",11).attr("font-weight",700).attr("fill","#8a8a8a").text("0");

/* Indicator legends */
const priceSw=[UP,DOWN], macdSw=[DOWN,UP,"#2222dd"];
[0,889].forEach(dx=>{
  tab(dx+1,34.5,dx?73:74,priceSw,"Precio",[47,62]);
  tab(dx+1,669,88.5,["#111"],"ATR (14)",[62,75]);
  tab(dx+1,775,119,macdSw,"MACD (12 26 9)",[91,105]);
  tab(dx+1,885,86,priceSw,"Volumen",[58,73]);
});
tab(76,34.5,61,[DOWN],"SMA (30)",null);
tab(965,34.5,66,[DOWN],"SMA (200)",null);
tab(1032,34.5,61,["#2faa2f"],"SMA (50)",null);
</script>
</body>
</html>
